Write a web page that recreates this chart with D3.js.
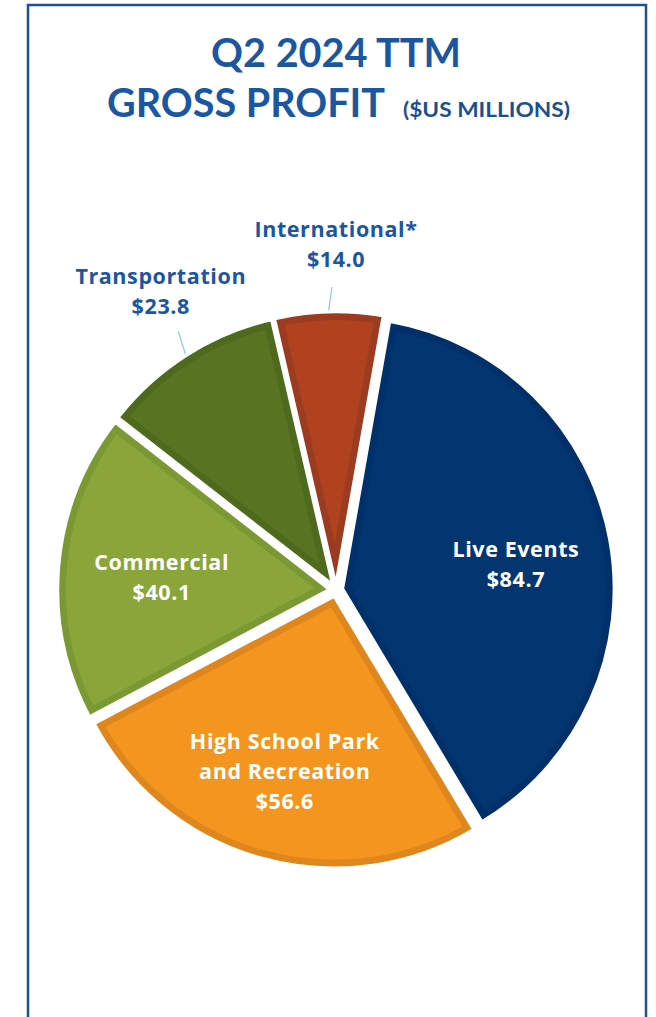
<!DOCTYPE html>
<html>
<head>
<meta charset="utf-8">
<script src="https://cdn.jsdelivr.net/npm/d3@7"></script>
<style>
  html, body { margin: 0; padding: 0; background: #fff; }
  svg text { font-family: Lato, "Open Sans", sans-serif; font-weight: 700; }
  svg text.lbl { font-family: "Open Sans", Lato, sans-serif; font-weight: 700; }
</style>
</head>
<body>
<div id="chart"></div>
<script>
// data
const categories = ["Live Events", "High School Park and Recreation", "Commercial", "Transportation", "International*"];
const values = [84.7, 56.6, 40.1, 23.8, 14.0];
const labelLines = [["Live Events"], ["High School Park", "and Recreation"], ["Commercial"], ["Transportation"], ["International*"]];
const outsideLabel = [false, false, false, true, true];
const fillColors = ["#033670", "#f4951f", "#8aa63a", "#567421", "#b04220"];
const bandColors = ["#00306a", "#df861d", "#7a9933", "#4d6a1d", "#9b3b1f"];
const titleLines = ["Q2 2024 TTM", "GROSS PROFIT"];
const unitText = "($US MILLIONS)";

const width = 656, height = 1017;
const titleColor = "#1b56a0";

const svg = d3.select("#chart").append("svg")
    .attr("width", width)
    .attr("height", height);

// frame (open at the bottom)
svg.append("path")
    .attr("d", `M28,${height} L28,5 L646,5 L646,${height}`)
    .attr("fill", "none")
    .attr("stroke", "#1f4f8f")
    .attr("stroke-width", 2.5);

// title
svg.append("text")
    .attr("x", 211).attr("y", 67)
    .attr("fill", titleColor)
    .attr("font-size", 40)
    .attr("textLength", 250)
    .attr("lengthAdjust", "spacingAndGlyphs")
    .text(titleLines[0]);

svg.append("text")
    .attr("x", 107).attr("y", 117)
    .attr("fill", titleColor)
    .attr("font-size", 40)
    .attr("textLength", 278)
    .attr("lengthAdjust", "spacingAndGlyphs")
    .text(titleLines[1]);

svg.append("text")
    .attr("x", 403).attr("y", 117)
    .attr("fill", "#1d4f8d")
    .attr("font-size", 20)
    .attr("textLength", 167)
    .attr("lengthAdjust", "spacingAndGlyphs")
    .text(unitText);

// pie
const cx = 336, cy = 590, radius = 271, explode = 7, band = 8;
const deg = Math.PI / 180;

const pie = d3.pie().sort(null)
    .startAngle(10 * deg)
    .endAngle(370 * deg);

const arcs = pie(values);
const arc = d3.arc().innerRadius(0).outerRadius(radius);

const g = svg.append("g").attr("transform", `translate(${cx},${cy})`);
const defs = svg.append("defs");

function offset(d, r, nudge = 0) {
    const a = (d.startAngle + d.endAngle) / 2 + nudge * deg;
    return [Math.sin(a) * r, -Math.cos(a) * r];
}

arcs.forEach((d, i) => {
    const [ox, oy] = offset(d, explode);
    const slice = g.append("g").attr("transform", `translate(${ox},${oy})`);

    defs.append("clipPath").attr("id", "clip" + i)
        .append("path").attr("d", arc(d));

    slice.append("path")
        .attr("d", arc(d))
        .attr("fill", fillColors[i])
        .attr("stroke", bandColors[i])
        .attr("stroke-width", band * 2)
        .attr("stroke-linejoin", "miter")
        .attr("clip-path", `url(#clip${i})`);

    // white separation
    slice.append("path")
        .attr("d", arc(d))
        .attr("fill", "none")
        .attr("stroke", "#fff")
        .attr("stroke-width", 2.5);
});

// labels
const lineH = 30;
const labelNudge = [1.7, 0.4, 0, 2.3, 1.5];
const labelR = [182, 186, 175, 348, 348];
arcs.forEach((d, i) => {
    const lines = labelLines[i].concat(["$" + values[i].toFixed(1)]);
    const outside = outsideLabel[i];
    const [lx, ly] = offset(d, labelR[i], labelNudge[i]);
    const t = g.append("text")
        .attr("class", "lbl")
        .attr("text-anchor", "middle")
        .attr("font-size", 21.5)
        .attr("letter-spacing", 0.6)
        .attr("fill", outside ? titleColor : "#fff");
    lines.forEach((s, k) => {
        t.append("tspan")
            .attr("x", lx)
            .attr("y", ly + (k - (lines.length - 1) / 2) * lineH + 10)
            .text(s);
    });

    if (outside) {
        const [x1, y1] = offset(d, 280);
        const [x2, y2] = offset(d, 303, labelNudge[i] / 2);
        g.append("line")
            .attr("x1", x1).attr("y1", y1)
            .attr("x2", x2).attr("y2", y2)
            .attr("stroke", "#8ec4f2")
            .attr("stroke-width", 1.2);
    }
});
</script>
</body>
</html>
